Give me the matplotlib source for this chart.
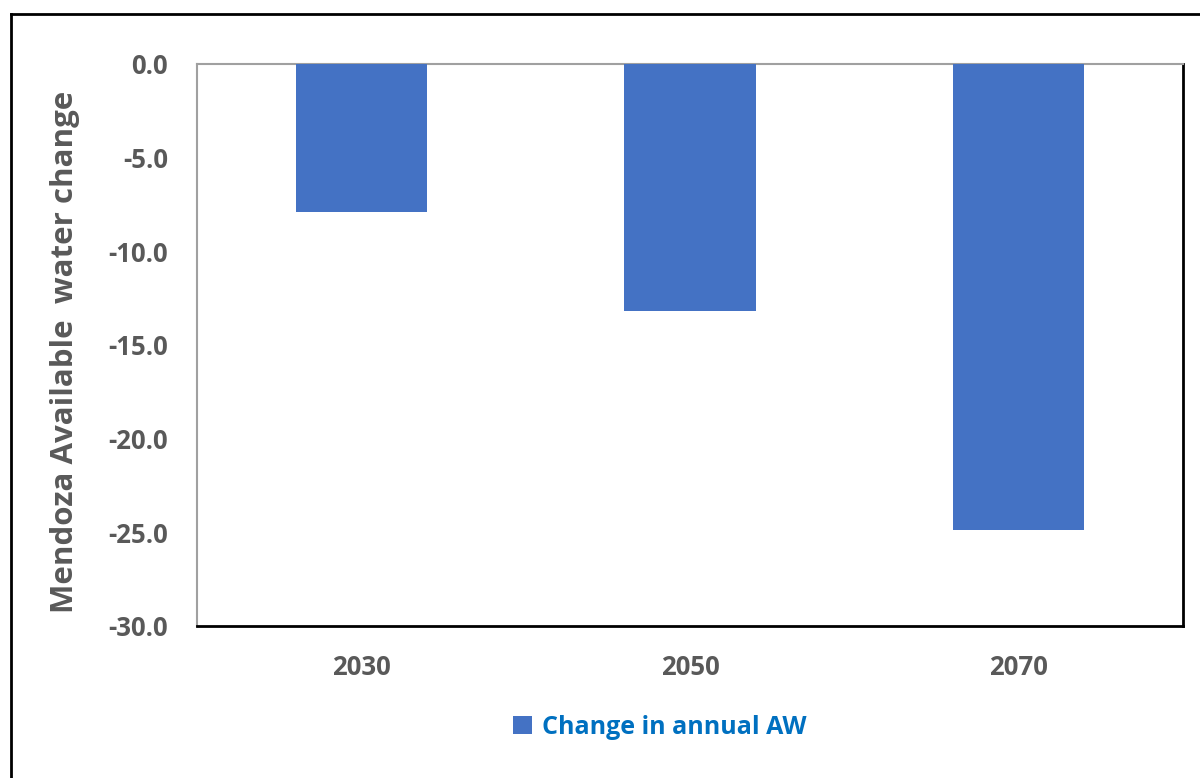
import matplotlib
matplotlib.use("Agg")
import matplotlib.pyplot as plt
from matplotlib.lines import Line2D
from matplotlib.patches import Patch

categories = ["2030", "2050", "2070"]
values = [-7.9, -13.2, -24.9]
yticks = [0.0, -5.0, -10.0, -15.0, -20.0, -25.0, -30.0]
series_name = "Change in annual AW"

plt.rcParams['font.family'] = ['Open Sans', 'DejaVu Sans']

fig = plt.figure(figsize=(12, 7.78), dpi=100)
W, H = 1200, 778
ax = fig.add_axes([197 / W, 1 - 626 / H, (1183 - 197) / W, (626 - 64) / H])

x = list(range(len(categories)))
ax.bar(x, values, width=0.4, color="#4472C4", zorder=3)
ax.set_xlim(-0.5, 2.5)
ax.set_ylim(-30, 0)
ax.set_yticks(yticks)
ax.set_yticklabels([f"{v:.1f}" for v in yticks])
ax.set_xticks(x)
ax.set_xticklabels(categories)
ax.tick_params(axis='both', length=0, labelsize=18.5, labelcolor="#595959")
ax.tick_params(axis='y', pad=21)
ax.tick_params(axis='x', pad=20)
for lab in ax.get_xticklabels() + ax.get_yticklabels():
    lab.set_fontweight('bold')

ax.spines['top'].set_color("#A0A0A0")
ax.spines['left'].set_color("#A0A0A0")
ax.spines['right'].set_color("black")
ax.spines['bottom'].set_color("black")
for s in ['top', 'left']:
    ax.spines[s].set_linewidth(1.5)
for s in ['right', 'bottom']:
    ax.spines[s].set_linewidth(2)

ax.set_ylabel("Mendoza Available  water change", fontsize=22.5, fontweight='bold',
              color="#595959")
ax.yaxis.set_label_coords(-0.119, 0.488)

handles = [Patch(facecolor="#4472C4", edgecolor="none", label=series_name)]
leg = fig.legend(handles=handles, loc='center', bbox_to_anchor=(660 / W, 1 - 727 / H),
                 frameon=False, handlelength=0.75, handleheight=0.75,
                 handletextpad=0.4, prop={'family': ['Open Sans', 'DejaVu Sans'],
                                          'weight': 'bold', 'size': 18})
for t in leg.get_texts():
    t.set_color("#0070C0")

# outer frame (left and top edges visible)
fig.add_artist(Line2D([11 / W, 11 / W], [0, 1 - 14 / H], transform=fig.transFigure,
                      color="black", lw=2))
fig.add_artist(Line2D([11 / W, 1], [1 - 14 / H, 1 - 14 / H], transform=fig.transFigure,
                      color="black", lw=2))

fig.savefig("out.png", dpi=100)
